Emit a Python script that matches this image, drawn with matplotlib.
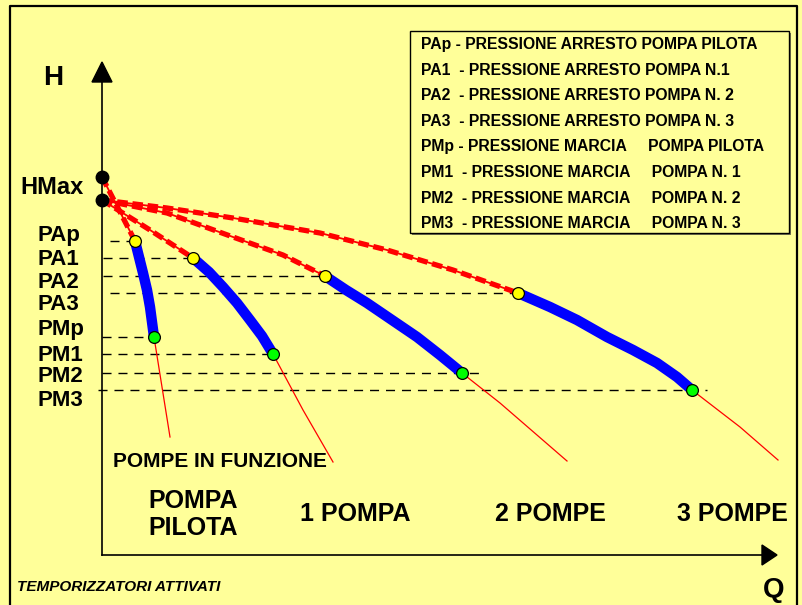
import matplotlib
matplotlib.use('Agg')
import matplotlib.pyplot as plt
from matplotlib.patches import Rectangle, Polygon

plt.rcParams['font.family'] = ['Liberation Sans', 'DejaVu Sans']

# --- data (Q = portata, H = prevalenza; origin at axes corner) ---
h_max_top = 378
h_max = 355
level_names = ['PAp', 'PA1', 'PA2', 'PA3', 'PMp', 'PM1', 'PM2', 'PM3']
level_h = [314, 297, 279, 262, 218, 201, 182, 165]
# dashed reference lines: start / end in Q
level_q0 = [8, 1, 1, 8, 0, 0, 0, -4]
level_q1 = [31, 90, 220, 415, 52, 171, 378, 605]

# working range of each pump group (blue)
pilot_q = [33, 37, 41, 45, 48, 52]
pilot_h = [314, 298, 282, 265, 248, 218]
p1_q = [91, 107, 121, 135, 148, 160, 171]
p1_h = [297, 283, 268, 252, 235, 219, 201]
p2_q = [223, 244, 265, 290, 315, 338, 360]
p2_h = [279, 265, 252, 235, 218, 200, 182]
p3_q = [416, 448, 475, 505, 531, 555, 575, 590]
p3_h = [262, 248, 235, 218, 205, 192, 178, 165]

# shut-off part of the curves (red dashed)
pilot_off_q = [0, 33]
pilot_off_h = [378, 314]
p1_off_q = [0, 48, 91]
p1_off_h = [355, 325, 297]
p2_off_q = [0, 65, 131, 181, 223]
p2_off_h = [355, 342, 318, 300, 279]
p3_off_q = [0, 65, 131, 218, 285, 351, 416]
p3_off_h = [355, 347, 337, 322, 305, 285, 262]

# run-out part (thin red)
pilot_run_q = [52, 68]
pilot_run_h = [218, 118]
p1_run_q = [171, 201, 231]
p1_run_h = [201, 145, 93]
p2_run_q = [360, 398, 465]
p2_run_h = [182, 152, 94]
p3_run_q = [590, 638, 676]
p3_run_h = [165, 128, 95]

legend_lines = [
    'PAp - PRESSIONE ARRESTO POMPA PILOTA',
    'PA1  - PRESSIONE ARRESTO POMPA N.1',
    'PA2  - PRESSIONE ARRESTO POMPA N. 2',
    'PA3  - PRESSIONE ARRESTO POMPA N. 3',
    'PMp - PRESSIONE MARCIA     POMPA PILOTA',
    'PM1  - PRESSIONE MARCIA     POMPA N. 1',
    'PM2  - PRESSIONE MARCIA     POMPA N. 2',
    'PM3  - PRESSIONE MARCIA     POMPA N. 3',
]
group_labels = ['POMPA\nPILOTA', '1 POMPA', '2 POMPE', '3 POMPE']

bg = '#FFFF99'
fig = plt.figure(figsize=(8.02, 6.05), dpi=100, facecolor=bg)
ax = fig.add_axes([0, 0, 1, 1])
ax.set_facecolor(bg)
ax.set_xlim(-102, 700)
ax.set_ylim(-50, 555)
ax.axis('off')


def px(x, y):
    # pixel position of the picture -> data coords
    return x - 102, 555 - y


# frame
ax.plot(*zip(px(10, 606), px(10, 6), px(797, 6), px(797, 606)), color='black', lw=1.6)

# axes with arrows
ax.plot([0, 0], [0, 480], color='black', lw=1.2)
ax.plot([0, 660], [0, 0], color='black', lw=1.2)
ax.add_patch(Polygon([px(92, 82), px(112, 82), px(102, 62)], closed=True, color='black'))
ax.add_patch(Polygon([px(762, 545), px(762, 565), px(777, 555)], closed=True, color='black'))
ax.text(*px(53, 85), 'H', fontsize=20, fontweight='bold', ha='center', va='baseline')
ax.text(*px(774, 597), 'Q', fontsize=20, fontweight='bold', ha='center', va='baseline')

# reference levels
for name, h, q0, q1 in zip(level_names, level_h, level_q0, level_q1):
    ax.plot([q0, q1], [h, h], color='black', lw=1.0, dashes=(6.5, 5))
label_base = [241, 265, 288, 310, 335, 361, 382, 406]
for name, yb in zip(level_names, label_base):
    ax.text(*px(38, yb), name, fontsize=16, fontweight='bold', va='baseline')
ax.text(*px(20, 194), 'HMax', fontsize=17, fontweight='bold', va='baseline')

# run-out lines
for q, h in [(pilot_run_q, pilot_run_h), (p1_run_q, p1_run_h),
             (p2_run_q, p2_run_h), (p3_run_q, p3_run_h)]:
    ax.plot(q, h, color='#FF0000', lw=0.9)

# shut-off dashed lines
for q, h in [(pilot_off_q, pilot_off_h), (p1_off_q, p1_off_h),
             (p2_off_q, p2_off_h), (p3_off_q, p3_off_h)]:
    ax.plot(q, h, color='#FF0000', lw=1.3)
    ax.plot(q, h, color='#FF0000', lw=3.8, dashes=(2.0, 0.9))

# working ranges
for q, h in [(pilot_q, pilot_h), (p1_q, p1_h), (p2_q, p2_h), (p3_q, p3_h)]:
    ax.plot(q, h, color='#0000FF', lw=7.5, solid_capstyle='butt', solid_joinstyle='round')
    ax.plot(q[0], h[0], 'o', ms=8.5, mfc='#FFFF00', mec='black', mew=0.9)
    ax.plot(q[-1], h[-1], 'o', ms=8.5, mfc='#00FF00', mec='black', mew=0.9)

ax.plot([0, 0], [h_max_top, h_max], 'o', ms=9, color='black')

# legend box
lx0, ly0 = px(410, 233)
ax.add_patch(Rectangle((lx0 + 2, ly0 - 2), 379, 202, facecolor='#777755', edgecolor='none'))
ax.add_patch(Rectangle((lx0, ly0), 379, 202, facecolor=bg, edgecolor='black', lw=1.0))
for i, line in enumerate(legend_lines):
    ax.text(*px(421, 49 + i * 25.6), line, fontsize=11.3, fontweight='bold', va='baseline')

# bottom labels
ax.text(*px(113, 467), 'POMPE IN FUNZIONE', fontsize=15, fontweight='bold', va='baseline')
group_x = [148, 300, 495, 677]
for lab, gx in zip(group_labels, group_x):
    yb = 535 if '\n' in lab else 521
    ax.text(*px(gx, yb), lab, fontsize=18, fontweight='bold',
            ha='left', va='baseline', linespacing=1.15)
ax.text(*px(17, 591), 'TEMPORIZZATORI ATTIVATI', fontsize=11, fontweight='bold',
        fontstyle='italic', va='baseline')

fig.savefig('out.png', dpi=100, facecolor=bg)
